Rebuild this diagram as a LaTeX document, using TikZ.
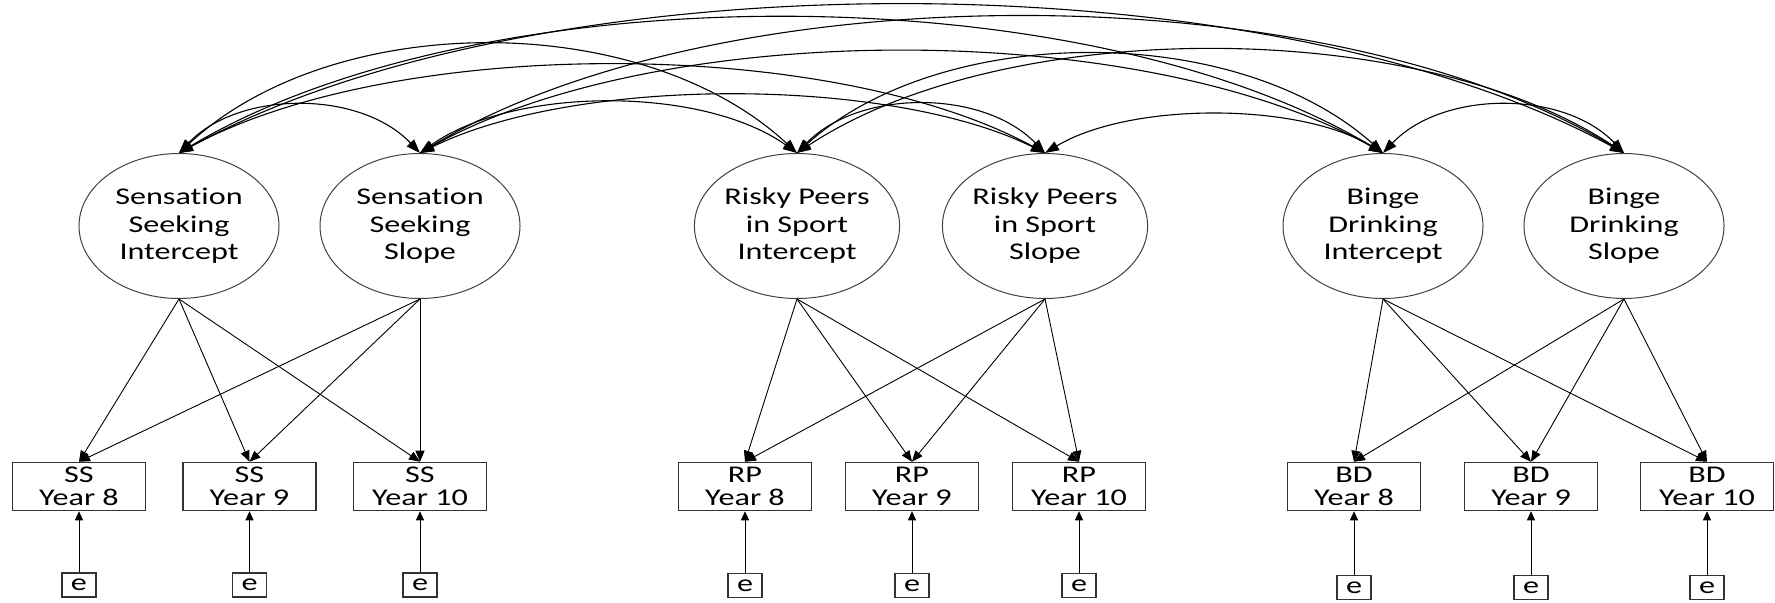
\documentclass[tikz,border=0pt]{standalone}
\usepackage{fontspec}
\setmainfont[FakeStretch=1.34,Ligatures=NoCommon]{Carlito}
\usetikzlibrary{shapes.geometric,arrows.meta}
\begin{document}
\begin{tikzpicture}[x=0.5pt,y=-0.5pt,
  latent/.style={ellipse,draw=black!75,line width=0.5pt,minimum width=100pt,minimum height=72.5pt,inner sep=0pt,align=center,font=\fontsize{12pt}{13.7pt}\selectfont},
  obs/.style={rectangle,draw=black!80,line width=0.55pt,minimum width=66.5pt,minimum height=24.2pt,inner sep=0pt,align=center,font=\fontsize{12pt}{11.35pt}\selectfont},
  err/.style={rectangle,draw=black!80,line width=0.55pt,minimum width=17pt,minimum height=12pt,inner sep=0pt,font=\fontsize{12pt}{12pt}\selectfont},
  load/.style={-{Triangle[length=5.5pt,width=4.5pt]},line width=0.45pt},
  res/.style={-{Triangle[length=4.5pt,width=4pt]},line width=0.45pt},
  cov/.style={{Triangle[length=7pt,width=5pt]}-{Triangle[length=7pt,width=5pt]},line width=0.55pt}]
\useasboundingbox (0,0) rectangle (1775,603);

% latent variables
\node[latent] (A) at (179,226) {Sensation\\Seeking\\Intercept};
\node[latent] (B) at (420,226) {Sensation\\Seeking\\Slope};
\node[latent] (C) at (797,226) {Risky Peers\\in Sport\\Intercept};
\node[latent] (D) at (1045,226) {Risky Peers\\in Sport\\Slope};
\node[latent] (E) at (1383,226) {Binge\\Drinking\\Intercept};
\node[latent] (F) at (1624,226) {Binge\\Drinking\\Slope};

% observed
\node[obs] (ss8) at (79,486.5) {SS\\Year 8};
\node[obs] (ss9) at (249.5,486.5) {SS\\Year 9};
\node[obs] (ss10) at (420,486.5) {SS\\Year 10};
\node[obs] (rp8) at (745,486.5) {RP\\Year 8};
\node[obs] (rp9) at (912,486.5) {RP\\Year 9};
\node[obs] (rp10) at (1079,486.5) {RP\\Year 10};
\node[obs] (bd8) at (1354,486.5) {BD\\Year 8};
\node[obs] (bd9) at (1531,486.5) {BD\\Year 9};
\node[obs] (bd10) at (1707,486.5) {BD\\Year 10};

% errors
\node[err] (ess8) at (79,585) {e};
\node[err] (ess9) at (249.5,585) {e};
\node[err] (ess10) at (420,585) {e};
\node[err] (erp8) at (745,585.5) {e};
\node[err] (erp9) at (912,585.5) {e};
\node[err] (erp10) at (1079,585.5) {e};
\node[err] (ebd8) at (1354,587.5) {e};
\node[err] (ebd9) at (1531,587.5) {e};
\node[err] (ebd10) at (1707,587.5) {e};

% residual arrows
\foreach \o in {ss8,ss9,ss10,rp8,rp9,rp10,bd8,bd9,bd10}
  \draw[res] (e\o.north) -- (\o.south);

% loadings
\foreach \l/\g in {A/ss,B/ss,C/rp,D/rp,E/bd,F/bd}
  \foreach \y in {8,9,10}
    \draw[load] (\l.south) -- (\g\y.north);

% covariances
\draw[cov] (A.north) .. controls +(60,-63) and +(-60,-63) .. (B.north);
\draw[cov] (A.north) .. controls +(155,-144) and +(-155,-144) .. (C.north);
\draw[cov] (A.north) .. controls +(216,-117) and +(-216,-117) .. (D.north);
\draw[cov] (A.north) .. controls +(301,-180) and +(-301,-180) .. (E.north);
\draw[cov] (A.north) .. controls +(361,-197) and +(-361,-197) .. (F.north);
\draw[cov] (B.north) .. controls +(94,-67) and +(-94,-67) .. (C.north);
\draw[cov] (B.north) .. controls +(156,-77) and +(-156,-77) .. (D.north);
\draw[cov] (B.north) .. controls +(241,-135) and +(-241,-135) .. (E.north);
\draw[cov] (B.north) .. controls +(301,-181) and +(-301,-181) .. (F.north);
\draw[cov] (C.north) .. controls +(62,-64) and +(-62,-64) .. (D.north);
\draw[cov] (C.north) .. controls +(146,-131) and +(-146,-131) .. (E.north);
\draw[cov] (C.north) .. controls +(207,-137) and +(-207,-137) .. (F.north);
\draw[cov] (D.north) .. controls +(85,-51) and +(-85,-51) .. (E.north);
\draw[cov] (E.north) .. controls +(60,-63) and +(-60,-63) .. (F.north);
\end{tikzpicture}
\end{document}
